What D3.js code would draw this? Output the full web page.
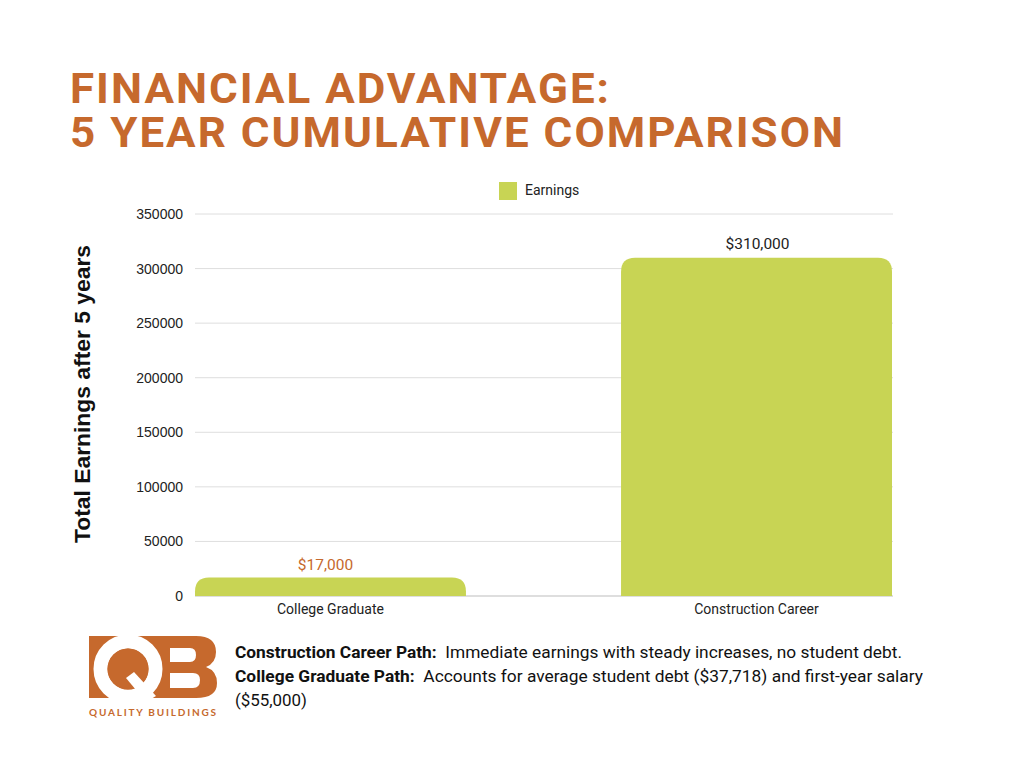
<!DOCTYPE html>
<html><head><meta charset="utf-8">
<script src="https://cdn.jsdelivr.net/npm/d3@7"></script>
<style>
body{margin:0;background:#fff;}
svg{display:block;}
</style></head>
<body>
<svg id="c" width="1024" height="768"></svg>
<script>
const categories = ["College Graduate", "Construction Career"];
const earnings = [17000, 310000];
const valueLabels = ["$17,000", "$310,000"];
const yTicks = [0, 50000, 100000, 150000, 200000, 250000, 300000, 350000];
const titleLines = ["FINANCIAL ADVANTAGE:", "5 YEAR CUMULATIVE COMPARISON"];
const notes = [
  {bold: "Construction Career Path:", text: "Immediate earnings with steady increases, no student debt."},
  {bold: "College Graduate Path:", text: "Accounts for average student debt ($37,718) and first-year salary"},
  {bold: "", text: "($55,000)"}
];

const ORANGE = "#C6692D";
const GREEN = "#C8D454";
const svg = d3.select("#c");

// Title: fit to reference width with modest letter spacing and slightly condensed glyphs
const titleW = [539, 773];
const LS = 2;
svg.selectAll("text.title").data(titleLines).join("text")
  .attr("class","title")
  .attr("font-family","Roboto").attr("font-weight","700").attr("font-size",42)
  .attr("fill", ORANGE)
  .text(d=>d)
  .each(function(d,i){
    const w0 = this.getComputedTextLength();
    const n = d.length - 1;
    let s = (titleW[i] - n*LS) / w0;
    s = Math.max(0.8, Math.min(1.05, s));
    d3.select(this)
      .attr("transform",`translate(70,${103 + i*44}) scale(${s},1)`)
      .attr("textLength", titleW[i]/s)
      .attr("lengthAdjust","spacing");
  });

// Scales
const x = d3.scaleBand().domain(categories).range([195, 892]).paddingInner(0.364).paddingOuter(0);
const y = d3.scaleLinear().domain([0, 350000]).range([596, 214]);

// Grid
svg.append("g").selectAll("line").data(yTicks).join("line")
  .attr("x1",195).attr("x2",893)
  .attr("y1",d=>y(d)).attr("y2",d=>y(d))
  .attr("stroke", d=> d===0 ? "#bdbdbd" : "#dedede").attr("stroke-width",1);

// Y axis
const yAxis = d3.axisLeft(y).tickValues(yTicks).tickSize(0).tickPadding(0).tickFormat(d3.format("d"));
const gy = svg.append("g").attr("transform","translate(183,0)").call(yAxis);
gy.select(".domain").remove();
gy.selectAll("text").attr("font-family","Liberation Sans, Arial").attr("font-size",14).attr("fill","#222");

// X axis
const xAxis = d3.axisBottom(x).tickSize(0).tickPadding(0);
const gx = svg.append("g").attr("transform","translate(0,604)").call(xAxis);
gx.select(".domain").remove();
gx.selectAll("text").attr("font-family","Roboto").attr("font-size",14).attr("fill","#222").attr("dy","0.71em");

// Bars with rounded top corners
const r = 14;
function barPath(x0, w, yt, yb){
  const rr = Math.min(r, (yb-yt), w/2);
  return `M${x0},${yb}V${yt+rr}Q${x0},${yt} ${x0+rr},${yt}H${x0+w-rr}Q${x0+w},${yt} ${x0+w},${yt+rr}V${yb}Z`;
}
svg.append("g").selectAll("path").data(categories).join("path")
  .attr("d",(d,i)=>barPath(x(d), x.bandwidth(), y(earnings[i]), y(0)))
  .attr("fill", GREEN);

// Value labels
svg.append("g").selectAll("text").data(categories).join("text")
  .attr("x",(d,i)=>x(d)+x.bandwidth()/2 - (i===0?5:-1))
  .attr("y",(d,i)=>y(earnings[i]) - (i===0?7:9))
  .attr("text-anchor","middle")
  .attr("font-family","Roboto").attr("font-size",15.5)
  .attr("fill",(d,i)=> i===0 ? ORANGE : "#222")
  .text((d,i)=>valueLabels[i]);

// Legend
svg.append("rect").attr("x",499).attr("y",182).attr("width",18).attr("height",18).attr("fill",GREEN);
svg.append("text").attr("x",525).attr("y",195).attr("font-family","Roboto").attr("font-size",14).attr("fill","#222").text("Earnings");

// Y axis title
svg.append("text")
  .attr("transform","translate(90,394) rotate(-90)")
  .attr("text-anchor","middle")
  .attr("font-family","Liberation Sans, Arial").attr("font-weight","700").attr("font-size",22)
  .attr("fill","#111")
  .attr("textLength",298).attr("lengthAdjust","spacingAndGlyphs")
  .text("Total Earnings after 5 years");

// Notes
const nt = svg.append("g").selectAll("text").data(notes).join("text")
  .attr("x",235).attr("y",(d,i)=>658 + i*24)
  .attr("font-family","Roboto").attr("font-size",17).attr("fill","#111");
nt.append("tspan").attr("font-weight","700").text(d=>d.bold ? d.bold + "\u00a0\u00a0" : "");
nt.append("tspan").text(d=>d.text);
nt.attr("textLength",(d,i)=>[667, 688, 72][i]).attr("lengthAdjust","spacingAndGlyphs");

// Logo
const logo = svg.append("g");
logo.append("rect").attr("x",89).attr("y",636).attr("width",62).attr("height",62).attr("fill",ORANGE);
logo.append("path").attr("fill",ORANGE).attr("fill-rule","evenodd")
  .attr("d","M147,636H196Q216,636 216,652Q216,663 206,667Q217,671 217,683Q217,698 196,698H147Z" +
            "M170,648V662H190Q196,662 196,655Q196,648 190,648Z" +
            "M170,673V688H193Q200,688 200,680Q200,673 193,673Z");
logo.append("circle").attr("cx",128).attr("cy",669).attr("r",27.5).attr("fill","none").attr("stroke","#fff").attr("stroke-width",14);
logo.append("circle").attr("cx",128).attr("cy",669).attr("r",20.5).attr("fill",ORANGE);
logo.append("path").attr("fill","#fff").attr("d","M126,678L134,672L156,696L146,702Z");
logo.append("rect").attr("x",86).attr("y",698).attr("width",135).attr("height",8).attr("fill","#fff");
logo.append("text").attr("x",89).attr("y",716).attr("font-family","Lato, Roboto").attr("font-weight","700")
  .attr("font-size",10).attr("fill",ORANGE).attr("textLength",127).attr("lengthAdjust","spacing")
  .text("QUALITY BUILDINGS");
</script>
</body></html>
